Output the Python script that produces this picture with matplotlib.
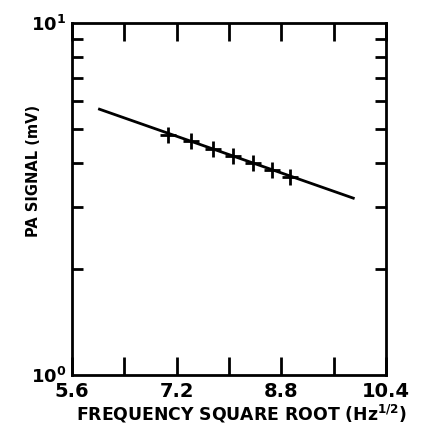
import matplotlib
matplotlib.use("Agg")
import matplotlib.pyplot as plt
from matplotlib.ticker import FixedLocator, NullFormatter, LogLocator

# measured points: sqrt of frequency (Hz^1/2) and PA signal (mV)
sqrt_freq = [7.07, 7.42, 7.75, 8.06, 8.37, 8.66, 8.94]
pa_signal = [4.81, 4.62, 4.39, 4.19, 3.99, 3.82, 3.64]

# fitted straight line (end points)
fit_x = [6.02, 9.90]
fit_y = [5.69, 3.18]

x_ticks = [5.6, 6.4, 7.2, 8.0, 8.8, 9.6, 10.4]
x_labels = ["5.6", "", "7.2", "", "8.8", "", "10.4"]

plt.rcParams["font.family"] = ["DejaVu Sans"]
plt.rcParams["font.weight"] = "bold"

fig = plt.figure(figsize=(4.23, 4.26), dpi=100)
ax = fig.add_axes([72 / 423, 1 - 375 / 426, 314 / 423, 352 / 426])

ax.plot(fit_x, fit_y, "-", color="black", lw=2)
ax.plot(sqrt_freq, pa_signal, "+", color="black", ms=12, mew=2)

ax.set_yscale("log")
ax.set_xlim(5.6, 10.4)
ax.set_ylim(1, 10)

ax.xaxis.set_major_locator(FixedLocator(x_ticks))
ax.set_xticklabels(x_labels)
ax.yaxis.set_major_locator(FixedLocator([1, 10]))
ax.set_yticklabels(["$10^0$", "$10^1$"])
ax.yaxis.set_minor_locator(LogLocator(subs=range(2, 10)))
ax.yaxis.set_minor_formatter(NullFormatter())

ax.tick_params(axis="x", which="major", direction="in", length=13, width=2,
               top=True, bottom=True, labelsize=14, pad=5)
ax.tick_params(axis="y", which="major", direction="in", length=0,
               left=True, right=True, labelsize=13, pad=4)
ax.tick_params(axis="y", which="minor", direction="in", length=8, width=2,
               left=True, right=True)
for lab in ax.get_xticklabels() + ax.get_yticklabels():
    lab.set_fontweight("bold")
for s in ax.spines.values():
    s.set_linewidth(2)

ax.set_xlabel("FREQUENCY SQUARE ROOT (Hz$^{1/2}$)", fontsize=12.4,
              fontweight="bold")
ax.xaxis.set_label_coords(0.54, -0.08)
ax.set_ylabel("PA SIGNAL (mV)", fontsize=10.5, fontweight="bold")
ax.yaxis.set_label_coords(-0.10, 0.58)

fig.savefig("out.png", dpi=100)
